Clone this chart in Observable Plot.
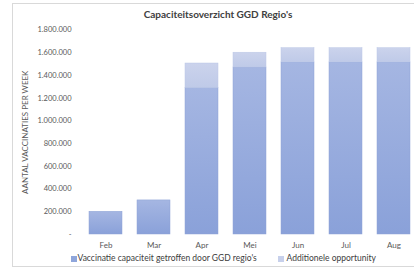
<!DOCTYPE html>
<html>
<head>
<meta charset="utf-8">
<script src="https://cdn.jsdelivr.net/npm/d3@7"></script>
<script src="https://cdn.jsdelivr.net/npm/@observablehq/plot@0.6"></script>
<style>
  html, body { margin: 0; padding: 0; background: #fff; width: 414px; height: 272px; overflow: hidden; position: relative; font-family: Lato, "Open Sans", sans-serif; }
  #frame { position: absolute; left: 12px; top: 3px; width: 420px; height: 264px; border: 1px solid #d9d9d9; box-sizing: border-box; }
  #title { position: absolute; left: 0; width: 436px; top: 8px; text-align: center; font-weight: bold; font-size: 10px; color: #404040; }
  #chart { position: absolute; left: 0; top: 0; }
  #legend { position: absolute; top: 253px; left: 0; width: 414px; font-size: 8.5px; color: #404040; }
  .sw { position: absolute; top: 2.5px; width: 6px; height: 6px; }
  .lt { position: absolute; top: 0; white-space: nowrap; line-height: 10px; }
</style>
</head>
<body>
<div id="frame"></div>
<div id="chart"></div>
<div id="title">Capaciteitsoverzicht GGD Regio's</div>
<div id="legend"></div>
<script>
const months = ["Feb", "Mar", "Apr", "Mei", "Jun", "Jul", "Aug"];
const capaciteit = [200000, 300000, 1290000, 1470000, 1515000, 1515000, 1515000];
const additioneel = [0, 0, 215000, 130000, 125000, 125000, 125000];
const yTicks = [0, 200000, 400000, 600000, 800000, 1000000, 1200000, 1400000, 1600000, 1800000];
const seriesNames = ["Vaccinatie capaciteit getroffen door GGD regio's", "Additionele opportunity"];

const rows = [];
months.forEach((m, i) => {
  rows.push({month: m, series: seriesNames[0], value: capaciteit[i]});
  rows.push({month: m, series: seriesNames[1], value: additioneel[i]});
});

const fmt = v => v === 0 ? "-" : d3.format(",")(v).replace(/,/g, ".");

const plot = Plot.plot({
  width: 414,
  height: 254,
  marginTop: 29.5,
  marginBottom: 20,
  marginLeft: 81,
  marginRight: 0,
  style: {fontFamily: "Lato, 'Open Sans', sans-serif", background: "transparent", overflow: "visible"},
  x: {domain: months, range: [81.5, 417.5], paddingInner: 0.3125, paddingOuter: 0.15625, label: null},
  y: {domain: [0, 1800000], label: null},
  marks: [
    Plot.ruleY(yTicks, {stroke: "#d9d9d9", strokeWidth: 1, x1: () => 81, x2: () => 420}),
    Plot.barY(rows.filter(d => d.series === seriesNames[0]), {
      x: "month", y: "value", fill: "url(#gMain)", stroke: "#8ea3d6", strokeWidth: 0.5
    }),
    Plot.barY(rows.filter(d => d.series === seriesNames[1] && d.value > 0), {
      x: "month",
      y1: (d) => capaciteit[months.indexOf(d.month)],
      y2: (d) => capaciteit[months.indexOf(d.month)] + d.value,
      fill: "url(#gAdd)", stroke: "#bcc7e6", strokeWidth: 0.5
    }),
    Plot.axisY({ticks: yTicks, tickFormat: fmt, tickSize: 0, tickPadding: 10, fontSize: 7.5, fill: "#595959", label: null}),
    Plot.axisX({tickSize: 0, tickPadding: 8, fontSize: 8, fill: "#595959", label: null}),
    Plot.text(["AANTAL VACCINATIES PER WEEK"], {
      frameAnchor: "left", dx: -56, y: () => 900000, rotate: -90, textAnchor: "middle",
      fontSize: 8, fill: "#595959"
    })
  ]
});

// gradients
const ns = "http://www.w3.org/2000/svg";
const defs = document.createElementNS(ns, "defs");
defs.innerHTML = `
  <linearGradient id="gMain" x1="0" y1="0" x2="0" y2="1">
    <stop offset="0" stop-color="#a5b6e2"/>
    <stop offset="1" stop-color="#8aa1d9"/>
  </linearGradient>
  <linearGradient id="gAdd" x1="0" y1="0" x2="0" y2="1">
    <stop offset="0" stop-color="#cbd3ec"/>
    <stop offset="1" stop-color="#bfcae8"/>
  </linearGradient>`;
plot.insertBefore(defs, plot.firstChild);
document.getElementById("chart").appendChild(plot);

// legend
const legend = document.getElementById("legend");
const legendItems = [
  {name: seriesNames[0], color: "#8fa6db", sx: 71, tx: 77.5},
  {name: seriesNames[1], color: "#c7d0eb", sx: 278, tx: 286.5}
];
legendItems.forEach(it => {
  const sw = document.createElement("div");
  sw.className = "sw"; sw.style.left = it.sx + "px"; sw.style.background = it.color;
  const t = document.createElement("div");
  t.className = "lt"; t.style.left = it.tx + "px"; t.textContent = it.name;
  legend.appendChild(sw); legend.appendChild(t);
});
</script>
</body>
</html>
